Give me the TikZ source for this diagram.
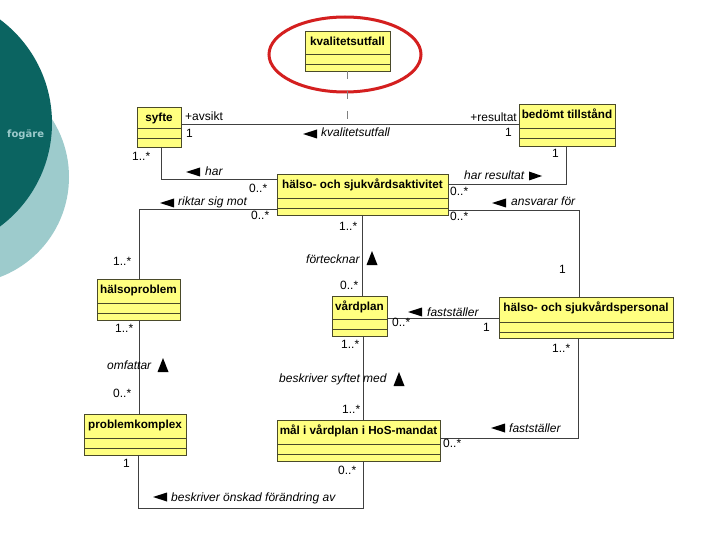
\documentclass[tikz,border=0pt]{standalone}
\usepackage{fontspec}
\setmainfont{Liberation Sans}
\setsansfont{Liberation Sans}
\newfontfamily\logofont{DejaVu Sans}
\definecolor{clsfill}{HTML}{FFFF80}
\definecolor{clsdraw}{HTML}{4A4A2A}
\definecolor{conn}{HTML}{404040}
\definecolor{darkteal}{HTML}{0B6461}
\definecolor{lightteal}{HTML}{9DCBCC}
\definecolor{ellred}{HTML}{D41F1F}
\newcommand\umlcls[8]{%
  \node[clsbox, anchor=north west, minimum width={(#4-#2)*1pt}, minimum height={(#5-#3)*1pt}] (#1) at (#2,#3) {};
  \draw[clsline] (#2,#6) -- (#4,#6);
  \draw[clsline] (#2,#7) -- (#4,#7);
  \node[clsname] (#1-name) at ({(#2+#4)/2},{#3+14.5}) {#8};
}
\newcommand\tril[2]{\fill[tri] (#1,#2) -- ++(14,-4.5) -- ++(0,9) -- cycle;}
\newcommand\trir[2]{\fill[tri] (#1,#2) -- ++(-13,-4.5) -- ++(0,9) -- cycle;}
\newcommand\triu[2]{\fill[tri] (#1,#2) -- ++(-5.5,14) -- ++(11,0) -- cycle;}
\tikzset{
  clsbox/.style={draw=clsdraw, fill=clsfill, line width=0.9pt, inner sep=0pt, outer sep=0pt},
  clsline/.style={draw=clsdraw, line width=0.9pt},
  clsname/.style={inner sep=0pt, anchor=base, font=\fontsize{11.7}{14}\selectfont\bfseries},
  conn/.style={draw=conn, line width=0.8pt},
  dashconn/.style={draw=gray, line width=0.8pt, dash pattern=on 8pt off 12pt},
  tri/.style={fill=black},
  lbl/.style={inner sep=0pt, anchor=base west, font=\fontsize{12}{14}\selectfont},
  ilbl/.style={lbl, font=\fontsize{12}{14}\selectfont\itshape},
}
\begin{document}
\begin{tikzpicture}[x=1pt, y=-1pt]
\useasboundingbox (0,0) rectangle (720,540);
\fill[white] (0,0) rectangle (720,540);
\begin{scope}
\clip (0,0) rectangle (720,540);
\fill[lightteal] (-38,177) circle [radius=107];
\fill[darkteal] (-77,123) circle [radius=129];
\end{scope}
\node[inner sep=0pt, anchor=base west, text=lightteal, font=\logofont\bfseries\fontsize{10}{12}\selectfont] (logo) at (7,138) {fogäre};

% red ellipse
\draw[ellred, line width=3pt] (345,54.5) ellipse [x radius=76, y radius=37.5];

% classes
\umlcls{kval}{305}{31}{390}{71}{54}{64}{kvalitetsutfall}
\umlcls{syfte}{137}{107}{181}{147}{128}{138}{syfte}
\umlcls{bedomt}{519}{104}{615}{146}{128}{138}{bedömt tillstånd}
\umlcls{akt}{277}{174}{448}{215}{198}{208}{hälso- och sjukvårdsaktivitet}
\umlcls{halsoproblem}{97}{279}{180}{320}{303}{313}{hälsoproblem}
\umlcls{vardplan}{332}{296}{387}{336}{319}{329}{vårdplan}
\umlcls{personal}{499}{297}{673}{338}{322}{332}{hälso- och sjukvårdspersonal}
\umlcls{problemkomplex}{84}{414}{186}{455}{438}{448}{problemkomplex}
\umlcls{mal}{277}{420}{440}{461}{444}{454}{mål i vårdplan i HoS-mandat}

% connectors
\coordinate (kq) at (348,124);
\draw[conn] (syfte.east |- kq) -- (bedomt.west |- kq);
\draw[dashconn] (kval.south) -- (kval.south |- kq);
\draw[conn] (syfte.south -| 161,0) |- (akt.west |- 0,179);
\draw[conn] (akt.west |- 0,209) -| (halsoproblem.north -| 139,0);
\draw[conn] (akt.east |- 0,184) -| (bedomt.south -| 566,0);
\draw[conn] (akt.east |- 0,210) -| (personal.north -| 579,0);
\draw[conn] (akt.south -| 362,0) -- (vardplan.north -| 362,0);
\draw[conn] (halsoproblem.south -| 139,0) -- (problemkomplex.north -| 139,0);
\draw[conn] (vardplan.east |- 0,318) -- (personal.west |- 0,318);
\draw[conn] (vardplan.south -| 363,0) -- (mal.north -| 363,0);
\draw[conn] (mal.east |- 0,438) -| (personal.south -| 578,0);
\coordinate (bc) at (363,508);
\draw[conn] (problemkomplex.south -| 138,0) |- (bc) -- (mal.south -| bc);

% triangles
\tril{303}{134}
\tril{186}{172}
\tril{160}{203}
\tril{492}{203}
\tril{408}{312}
\tril{491}{428}
\tril{153}{497}
\trir{542}{176}
\triu{372}{251}
\triu{163}{358}
\triu{399}{372}

% labels
\node[lbl] (t1) at (185,121) {+avsikt};
\node[lbl] (t2) at (186,138) {1};
\node[lbl, anchor=base east] (t3) at (517,122) {+resultat};
\node[lbl] (t4) at (505,137) {1};
\node[ilbl] (t5) at (321,137) {kvalitetsutfall};
\node[lbl] (t6) at (132,161) {1..*};
\node[ilbl] (t7) at (205,176) {har};
\node[lbl] (t8) at (249,193) {0..*};
\node[ilbl] (t9) at (178,206) {riktar sig mot};
\node[lbl] (t10) at (251,220) {0..*};
\node[lbl] (t11) at (552,158) {1};
\node[ilbl] (t12) at (464,180) {har resultat};
\node[lbl] (t13) at (450,196) {0..*};
\node[ilbl] (t14) at (511,206) {ansvarar för};
\node[lbl] (t15) at (450,221) {0..*};
\node[lbl] (t16) at (559,273) {1};
\node[lbl] (t17) at (339,230) {1..*};
\node[ilbl] (t18) at (306,263) {förtecknar};
\node[lbl] (t19) at (340,289) {0..*};
\node[lbl] (t20) at (113,265) {1..*};
\node[lbl] (t21) at (115,332) {1..*};
\node[ilbl] (t22) at (107,369) {omfattar};
\node[lbl] (t23) at (113,397) {0..*};
\node[lbl] (t24) at (392,326) {0..*};
\node[ilbl] (t25) at (427,316) {fastställer};
\node[lbl] (t26) at (483,331) {1};
\node[lbl] (t27) at (552,352) {1..*};
\node[lbl] (t28) at (341,348) {1..*};
\node[ilbl] (t29) at (279,382) {beskriver syftet med};
\node[lbl] (t30) at (342,413) {1..*};
\node[lbl] (t31) at (123,467) {1};
\node[lbl] (t32) at (338,474) {0..*};
\node[ilbl] (t33) at (171,501) {beskriver önskad förändring av};
\node[lbl] (t34) at (443,447) {0..*};
\node[ilbl] (t35) at (509,432) {fastställer};
\end{tikzpicture}
\end{document}
